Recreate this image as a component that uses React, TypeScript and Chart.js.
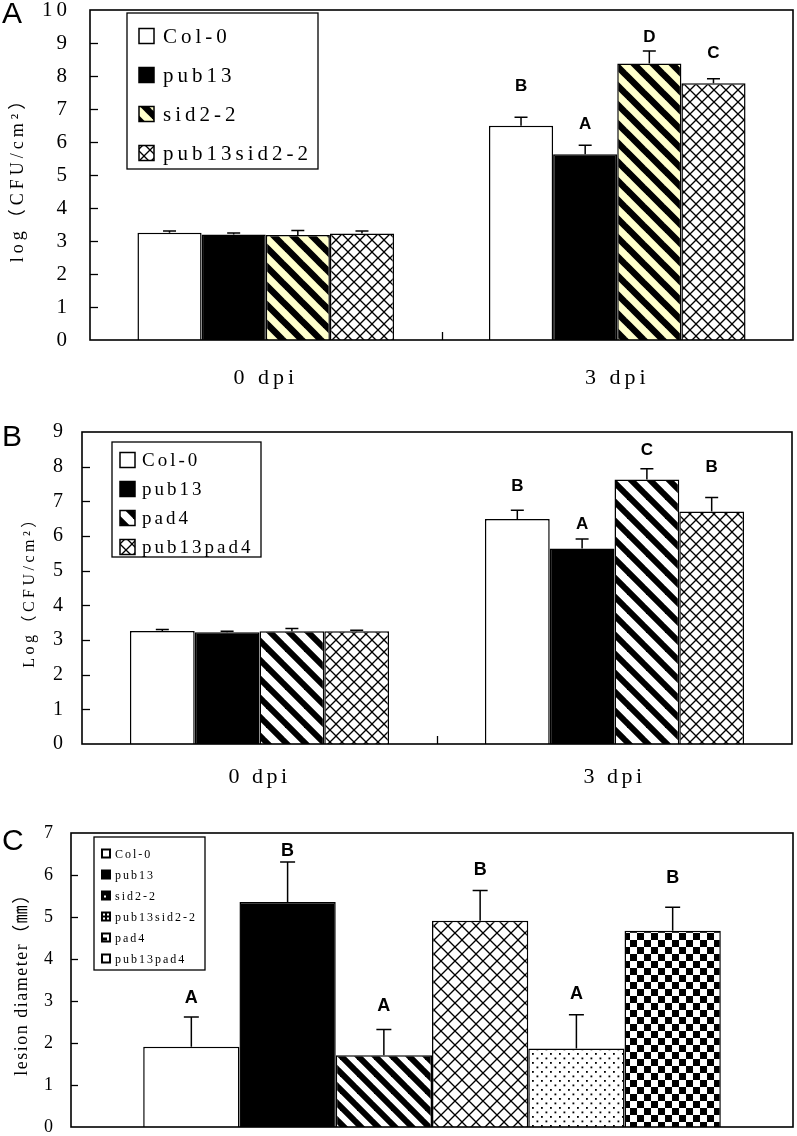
import React, { useEffect, useRef } from 'react';
import { Chart, registerables } from 'chart.js';
Chart.register(...registerables);

// ---------------- data ----------------
const groupLabels = ['0 dpi', '3 dpi'];

// Panel A
const seriesA = ['Col-0', 'pub13', 'sid2-2', 'pub13sid2-2'];
const colA = [3.25, 6.49];
const pub13A = [3.2, 5.63];
const sid2A = [3.18, 8.38];
const pub13sid2A = [3.23, 7.78];
const colAErr = [0.05, 0.26];
const pub13AErr = [0.04, 0.27];
const sid2AErr = [0.14, 0.38];
const pub13sid2AErr = [0.07, 0.14];
const lettersA = ['B', 'A', 'D', 'C'];
const letterLevelA = [7.69, 6.55, 9.17, 8.68];

// Panel B
const seriesB = ['Col-0', 'pub13', 'pad4', 'pub13pad4'];
const colB = [3.26, 6.49];
const pub13B = [3.22, 5.64];
const pad4B = [3.25, 7.63];
const pub13pad4B = [3.25, 6.71];
const colBErr = [0.04, 0.25];
const pub13BErr = [0.03, 0.27];
const pad4BErr = [0.08, 0.31];
const pub13pad4BErr = [0.03, 0.4];
const lettersB = ['B', 'A', 'C', 'B'];
const letterLevelB = [7.42, 6.35, 8.46, 7.99];

// Panel C
const seriesC = ['Col-0', 'pub13', 'sid2-2', 'pub13sid2-2', 'pad4', 'pub13pad4'];
const lesionC = [1.91, 5.36, 1.71, 4.91, 1.87, 4.67];
const lesionCErr = [0.71, 0.95, 0.61, 0.72, 0.8, 0.56];
const lettersC = ['A', 'B', 'A', 'B', 'A', 'B'];
const letterLevelC = [3.06, 6.56, 2.89, 6.13, 3.17, 5.93];

// ---------------- styles ----------------
const SERIF = '"Liberation Serif", "Noto Sans CJK SC", serif';
const SANS = '"Liberation Sans", Arial, sans-serif';

function tile(size: number, draw: (g: CanvasRenderingContext2D, s: number) => void) {
  const c = document.createElement('canvas');
  c.width = size;
  c.height = size;
  const g = c.getContext('2d')!;
  draw(g, size);
  return g.createPattern(c, 'repeat')!;
}

function stripes(period: number, band: number, bg: string) {
  return tile(period, (g, s) => {
    g.fillStyle = bg;
    g.fillRect(0, 0, s, s);
    g.strokeStyle = '#000';
    g.lineWidth = band;
    for (const o of [-s, 0, s]) {
      g.beginPath();
      g.moveTo(o - s, -s);
      g.lineTo(o + 2 * s, 2 * s);
      g.stroke();
    }
  });
}

function hatch(period: number) {
  return tile(period, (g, s) => {
    g.fillStyle = '#fff';
    g.fillRect(0, 0, s, s);
    g.strokeStyle = '#000';
    g.lineWidth = 1.3;
    for (const o of [-s, 0, s]) {
      g.beginPath();
      g.moveTo(o - s, -s);
      g.lineTo(o + 2 * s, 2 * s);
      g.stroke();
    }
    for (const c of [0, s, 2 * s]) {
      g.beginPath();
      g.moveTo(c + s, -s);
      g.lineTo(c - 2 * s, 2 * s);
      g.stroke();
    }
  });
}

function dots(period: number) {
  return tile(period, (g, s) => {
    g.fillStyle = '#fff';
    g.fillRect(0, 0, s, s);
    g.fillStyle = '#000';
    g.fillRect(1, 1, 1.8, 1.8);
    g.fillRect(1 + s / 2, 1 + s / 2, 1.8, 1.8);
  });
}

function checker(period: number) {
  return tile(period, (g, s) => {
    g.fillStyle = '#fff';
    g.fillRect(0, 0, s, s);
    g.fillStyle = '#000';
    g.fillRect(0, 0, s / 2, s / 2);
    g.fillRect(s / 2, s / 2, s / 2, s / 2);
  });
}

type LegendCfg = {
  x: number; y: number; w: number; h: number;
  first: number; step: number; swX: number; sw: number; textX: number; font: string; spacing: string;
  swatch?: (ctx: CanvasRenderingContext2D, x: number, y: number, s: number, i: number) => void;
};

type DecorCfg = {
  errors: number[][];
  letters: (string | null)[][];
  levels: (number | null)[][];
  letterFont: string;
  cap: number;
  tickLen: number;
  frameWidth: number;
  legend: LegendCfg;
  names: string[];
  spacing: string;
  panel: string; panelX: number; panelY: number; panelFont: string;
};

function makeDecor(o: DecorCfg) {
  return {
    id: 'decor',
    beforeDraw(chart: any) {
      (chart.ctx as any).letterSpacing = o.spacing;
    },
    afterDatasetsDraw(chart: any) {
      const { ctx, chartArea: a, scales } = chart;
      const y = scales.y;
      const x = scales.x;
      ctx.save();
      ctx.letterSpacing = '0px';
      // error bars and letters
      chart.data.datasets.forEach((ds: any, di: number) => {
        const meta = chart.getDatasetMeta(di);
        meta.data.forEach((bar: any, i: number) => {
          const p = bar.getProps(['x', 'y'], true);
          const v = ds.data[i];
          const e = o.errors[di][i];
          const yTop = y.getPixelForValue(v + e);
          ctx.strokeStyle = '#000';
          ctx.lineWidth = 1.5;
          ctx.beginPath();
          ctx.moveTo(p.x, p.y);
          ctx.lineTo(p.x, yTop);
          ctx.moveTo(p.x - o.cap / 2, yTop);
          ctx.lineTo(p.x + o.cap / 2, yTop);
          ctx.stroke();
          const L = o.letters[di][i];
          const lv = o.levels[di][i];
          if (L && lv != null) {
            ctx.fillStyle = '#000';
            ctx.font = o.letterFont;
            ctx.textAlign = 'center';
            ctx.textBaseline = 'middle';
            ctx.fillText(L, p.x, y.getPixelForValue(lv));
          }
        });
      });
      // frame
      ctx.strokeStyle = '#000';
      ctx.lineWidth = o.frameWidth;
      ctx.strokeRect(a.left, a.top, a.right - a.left, a.bottom - a.top);
      // inner y ticks
      ctx.lineWidth = 1.3;
      y.ticks.forEach((t: any) => {
        if (t.value <= y.min || t.value >= y.max) return;
        const py = Math.round(y.getPixelForValue(t.value)) + 0.5;
        ctx.beginPath();
        ctx.moveTo(a.left, py);
        ctx.lineTo(a.left + o.tickLen, py);
        ctx.stroke();
      });
      // category boundary ticks
      const n = chart.data.labels.length;
      for (let i = 1; i < n; i++) {
        const px = Math.round((x.getPixelForValue(i - 1) + x.getPixelForValue(i)) / 2) + 0.5;
        ctx.beginPath();
        ctx.moveTo(px, a.bottom);
        ctx.lineTo(px, a.bottom - o.tickLen);
        ctx.stroke();
      }
      // legend
      const lg = o.legend;
      ctx.fillStyle = '#fff';
      ctx.fillRect(lg.x, lg.y, lg.w, lg.h);
      ctx.lineWidth = 1.3;
      ctx.strokeRect(lg.x, lg.y, lg.w, lg.h);
      o.names.forEach((name, i) => {
        const cy = lg.first + i * lg.step;
        const sx = lg.swX;
        const sy = cy - lg.sw / 2;
        if (lg.swatch) {
          lg.swatch(ctx, sx, sy, lg.sw, i);
        } else {
          ctx.fillStyle = chart.data.datasets[i].backgroundColor;
          ctx.fillRect(sx, sy, lg.sw, lg.sw);
          ctx.strokeStyle = '#000';
          ctx.lineWidth = 1.5;
          ctx.strokeRect(sx, sy, lg.sw, lg.sw);
        }
        ctx.fillStyle = '#000';
        ctx.font = lg.font;
        ctx.letterSpacing = lg.spacing;
        ctx.textAlign = 'left';
        ctx.textBaseline = 'middle';
        ctx.fillText(name, lg.textX, cy + 1);
        ctx.letterSpacing = '0px';
      });
      // panel letter
      ctx.fillStyle = '#000';
      ctx.font = o.panelFont;
      ctx.textAlign = 'left';
      ctx.textBaseline = 'middle';
      ctx.fillText(o.panel, o.panelX, o.panelY);
      ctx.restore();
    },
    afterDraw(chart: any) {
      (chart.ctx as any).letterSpacing = '0px';
    },
  };
}

function yAxis(max: number, width: number, pad: number, tickSize: number, title: string, titleSize: number, titlePad: number) {
  return {
    min: 0,
    max,
    ticks: { stepSize: 1, padding: pad, color: '#000', font: { family: SERIF, size: tickSize } },
    grid: { display: false },
    border: { display: false },
    title: { display: true, text: title, color: '#000', font: { family: SERIF, size: titleSize }, padding: { top: titlePad, bottom: 0 } },
    afterFit: (s: any) => { s.width = width; s.paddingTop = 0; s.paddingBottom = 0; },
  };
}

function xAxis(height: number, pad: number, show: boolean) {
  return {
    type: 'category' as const,
    grid: { display: false },
    border: { display: false },
    ticks: { display: show, padding: pad, color: '#000', maxRotation: 0, font: { family: SERIF, size: 22 } },
    afterFit: (s: any) => { s.height = height; s.paddingLeft = 0; s.paddingRight = 0; },
  };
}

function baseOptions(padTop: number, padRight: number) {
  return {
    responsive: false,
    maintainAspectRatio: false,
    animation: false as const,
    events: [] as any[],
    layout: { padding: { top: padTop, right: padRight, left: 0, bottom: 0 } },
    plugins: { legend: { display: false }, tooltip: { enabled: false } },
  };
}

function buildA(): any {
  const fills: any[] = ['#ffffff', '#000000', stripes(19, 6.5, '#FFFFCC'), hatch(12)];
  const values = [colA, pub13A, sid2A, pub13sid2A];
  const errs = [colAErr, pub13AErr, sid2AErr, pub13sid2AErr];
  return {
    type: 'bar',
    data: {
      labels: groupLabels,
      datasets: seriesA.map((name, i) => ({
        label: name, data: values[i], backgroundColor: fills[i], borderColor: '#000', borderWidth: 1.5,
        categoryPercentage: 0.73, barPercentage: 1,
      })),
    },
    options: {
      ...baseOptions(10, 4),
      scales: { x: xAxis(60, 17, true), y: yAxis(10, 90, 11, 21, 'log（CFU/cm²）', 18, 7) },
    },
    plugins: [makeDecor({
      errors: errs,
      letters: seriesA.map((_, i) => [null, lettersA[i]]),
      levels: seriesA.map((_, i) => [null, letterLevelA[i]]),
      letterFont: `bold 17px ${SANS}`, cap: 13, tickLen: 8, frameWidth: 1.6, spacing: '4px',
      legend: { x: 127, y: 13, w: 191, h: 156, first: 36, step: 39, swX: 139, sw: 15, textX: 163, font: `21px ${SERIF}`, spacing: '4px' },
      names: seriesA, panel: 'A', panelX: 2, panelY: 15, panelFont: `30px ${SANS}`,
    })],
  };
}

function buildB(): any {
  const fills: any[] = ['#ffffff', '#000000', stripes(19, 6, '#ffffff'), hatch(12)];
  const values = [colB, pub13B, pad4B, pub13pad4B];
  const errs = [colBErr, pub13BErr, pad4BErr, pub13pad4BErr];
  return {
    type: 'bar',
    data: {
      labels: groupLabels,
      datasets: seriesB.map((name, i) => ({
        label: name, data: values[i], backgroundColor: fills[i], borderColor: '#000', borderWidth: 1.5,
        categoryPercentage: 0.73, barPercentage: 1,
      })),
    },
    options: {
      ...baseOptions(32, 5),
      scales: { x: xAxis(56, 12, true), y: yAxis(9, 82, 7.5, 20, 'Log（CFU/cm²）', 16, 20) },
    },
    plugins: [makeDecor({
      errors: errs,
      letters: seriesB.map((_, i) => [null, lettersB[i]]),
      levels: seriesB.map((_, i) => [null, letterLevelB[i]]),
      letterFont: `bold 17px ${SANS}`, cap: 13, tickLen: 8, frameWidth: 1.6, spacing: '3.5px',
      legend: { x: 112, y: 42, w: 149, h: 115, first: 60, step: 29, swX: 120, sw: 15, textX: 142, font: `19px ${SERIF}`, spacing: '3px' },
      names: seriesB, panel: 'B', panelX: 2, panelY: 38, panelFont: `30px ${SANS}`,
    })],
  };
}

function swatchC(ctx: CanvasRenderingContext2D, x: number, y: number, s: number, i: number) {
  ctx.save();
  ctx.fillStyle = '#000';
  ctx.fillRect(x, y, s, s);
  ctx.fillStyle = '#fff';
  if (i === 0 || i === 5) {
    ctx.fillRect(x + 2, y + 2, s - 4, s - 4);
  } else if (i === 2) {
    ctx.fillRect(x + 3, y + 5, 2, 2);
  } else if (i === 3) {
    ctx.fillRect(x + 2, y + 2, 2, 2);
    ctx.fillRect(x + s - 4, y + 2, 2, 2);
    ctx.fillRect(x + 2, y + s - 4, 2, 2);
    ctx.fillRect(x + s - 4, y + s - 4, 2, 2);
  } else if (i === 4) {
    ctx.fillRect(x + 2, y + 2, s - 4, s - 4);
    ctx.fillStyle = '#000';
    ctx.fillRect(x + 2, y + 5, 4, s - 7);
  }
  ctx.restore();
}

function buildC(): any {
  const fills: any[] = ['#ffffff', '#000000', stripes(17, 6, '#ffffff'), hatch(14), dots(9), checker(14)];
  return {
    type: 'bar',
    data: {
      labels: [''],
      datasets: seriesC.map((name, i) => ({
        label: name, data: [lesionC[i]], backgroundColor: fills[i], borderColor: '#000', borderWidth: 1.5,
        categoryPercentage: 0.8, barPercentage: 1,
      })),
    },
    options: {
      ...baseOptions(33, 4),
      scales: { x: xAxis(9, 0, false), y: yAxis(7, 71, 8.5, 18, 'lesion diameter（㎜）', 18, 11) },
    },
    plugins: [makeDecor({
      errors: seriesC.map((_, i) => [lesionCErr[i]]),
      letters: seriesC.map((_, i) => [lettersC[i]]),
      levels: seriesC.map((_, i) => [letterLevelC[i]]),
      letterFont: `bold 18px ${SANS}`, cap: 15, tickLen: 7, frameWidth: 1.6, spacing: '1.5px',
      legend: { x: 94, y: 37, w: 111, h: 133, first: 53.5, step: 21, swX: 101, sw: 10, textX: 115, font: `12px ${SERIF}`, spacing: '2px', swatch: swatchC },
      names: seriesC, panel: 'C', panelX: 2, panelY: 42, panelFont: `30px ${SANS}`,
    })],
  };
}

function Panel({ top, height, build }: { top: number; height: number; build: () => any }) {
  const ref = useRef<HTMLCanvasElement>(null);
  useEffect(() => {
    const chart = new Chart(ref.current!, build());
    return () => chart.destroy();
  }, []);
  return (
    <canvas
      ref={ref}
      width={797}
      height={height}
      style={{ position: 'absolute', left: 0, top, width: 797, height, display: 'block' }}
    />
  );
}

export default function App() {
  return (
    <div style={{ position: 'absolute', left: 0, top: 0, width: 797, height: 1136, background: '#fff', overflow: 'hidden' }}>
      <Panel top={0} height={400} build={buildA} />
      <Panel top={400} height={400} build={buildB} />
      <Panel top={800} height={336} build={buildC} />
    </div>
  );
}
